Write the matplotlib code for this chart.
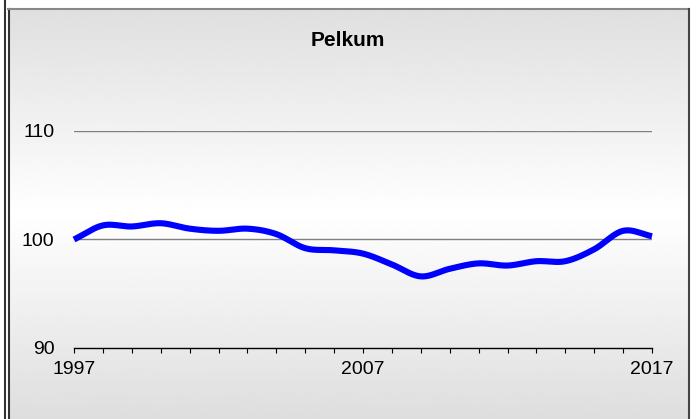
import numpy as np
import matplotlib.pyplot as plt
from matplotlib.lines import Line2D

plt.rcParams['font.family'] = ['Liberation Sans', 'DejaVu Sans']

years = np.arange(1997, 2018)
values = [100.0, 101.3, 101.2, 101.5, 101.0, 100.8, 101.0, 100.5, 99.2, 99.0,
          98.7, 97.7, 96.6, 97.3, 97.8, 97.6, 98.0, 98.0, 99.1, 100.8, 100.3]
title = 'Pelkum'
ytick_vals = [90, 100, 110]
xtick_labels = ['1997', '2007', '2017']


def smooth(x, y, n=20):
    # catmull-rom through the points, like the spreadsheet "smoothed line"
    x = np.asarray(x, float)
    y = np.asarray(y, float)
    px = np.concatenate([[2 * x[0] - x[1]], x, [2 * x[-1] - x[-2]]])
    py = np.concatenate([[2 * y[0] - y[1]], y, [2 * y[-1] - y[-2]]])
    xs, ys = [], []
    t = np.linspace(0, 1, n, endpoint=False)
    for i in range(1, len(px) - 2):
        for p, out in ((px, xs), (py, ys)):
            p0, p1, p2, p3 = p[i - 1], p[i], p[i + 1], p[i + 2]
            out.extend(0.5 * (2 * p1 + (-p0 + p2) * t
                              + (2 * p0 - 5 * p1 + 4 * p2 - p3) * t ** 2
                              + (-p0 + 3 * p1 - 3 * p2 + p3) * t ** 3))
    xs.append(x[-1])
    ys.append(y[-1])
    return np.array(xs), np.array(ys)


W, H = 696, 419
fig = plt.figure(figsize=(W / 100, H / 100), dpi=100)
fig.patch.set_facecolor('white')

# panel with vertical gray-white-gray gradient
bg = fig.add_axes([8 / W, 0, (689 - 8) / W, (419 - 9) / H])
rows = np.linspace(0, 1, 200)
shade = np.interp(rows, [0, 0.5, 1], [0.875, 1.0, 0.87])
bg.imshow(np.repeat(shade[:, None], 2, axis=1), cmap='gray', vmin=0, vmax=1,
          aspect='auto', extent=[0, 1, 0, 1], origin='upper')
bg.set_axis_off()

# frame lines
fig.add_artist(Line2D([4.5 / W, 4.5 / W], [0, 1], color='#333333', lw=1.5))
fig.add_artist(Line2D([8.5 / W, 8.5 / W], [0, 1 - 9 / H], color='#333333', lw=1.5))
fig.add_artist(Line2D([8 / W, 689 / W], [1 - 9.5 / H, 1 - 9.5 / H], color='#888888', lw=1.5))
fig.add_artist(Line2D([688.5 / W, 688.5 / W], [0, 1 - 9 / H], color='#444444', lw=1.5))

ax = fig.add_axes([74 / W, (H - 348) / H, 578 / W, 217 / H])
ax.set_facecolor('none')
ax.set_xlim(1997, 2017)
ax.set_ylim(90, 110)

for v in ytick_vals[1:]:
    ax.axhline(v, color='#808080', lw=1, zorder=1)

sx, sy = smooth(years, values)
ax.plot(sx, sy, color='#0000ff', lw=4.4, solid_capstyle='butt', clip_on=False, zorder=3)

for s in ['top', 'right', 'left']:
    ax.spines[s].set_visible(False)
ax.spines['bottom'].set_color('black')
ax.spines['bottom'].set_linewidth(1)

ax.set_yticks(ytick_vals)
ax.set_yticklabels([str(v) for v in ytick_vals])
ax.tick_params(axis='y', length=0, pad=14, labelsize=14)
ax.set_xticks(years)
ax.set_xticklabels([str(y) if str(y) in xtick_labels else '' for y in years])
ax.tick_params(axis='x', direction='out', length=3.6, width=0.8, pad=5.5, labelsize=14)

fig.text(348 / W, 1 - 40 / H, title, ha='center', va='center', fontsize=15, fontweight='bold')

fig.savefig('out.png', dpi=100)
